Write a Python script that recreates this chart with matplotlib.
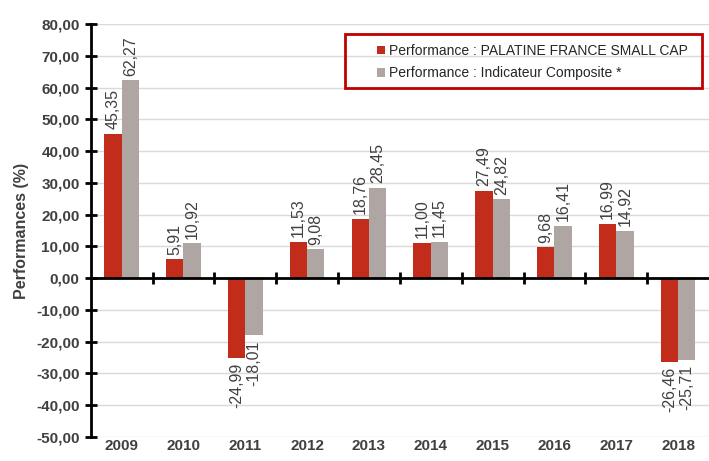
import matplotlib
matplotlib.use("Agg")
import matplotlib.pyplot as plt
import numpy as np
from matplotlib.patches import Rectangle
from matplotlib.ticker import FixedLocator

plt.rcParams["font.family"] = ["Liberation Sans", "DejaVu Sans"]

years = ["2009", "2010", "2011", "2012", "2013", "2014", "2015", "2016", "2017", "2018"]
fund = [45.35, 5.91, -24.99, 11.53, 18.76, 11.00, 27.49, 9.68, 16.99, -26.46]
index = [62.27, 10.92, -18.01, 9.08, 28.45, 11.45, 24.82, 16.41, 14.92, -25.71]
fund_label = "Performance : PALATINE FRANCE SMALL CAP"
index_label = "Performance : Indicateur Composite *"

RED = "#C22C1A"
GREY = "#AFA6A4"
TXT = "#404040"

fig = plt.figure(figsize=(7.09, 4.61), dpi=100)
ax = fig.add_axes([0.128, 0.052, 0.872, 0.896])

x = np.arange(len(years))
w = 0.28
ax.bar(x - w / 2, fund, w, color=RED, label=fund_label, zorder=3)
ax.bar(x + w / 2, index, w, color=GREY, label=index_label, zorder=3)

def fmt(v):
    return f"{v:.2f}".replace(".", ",")

for xs, vals in ((x - w / 2, fund), (x + w / 2, index)):
    for xi, v in zip(xs, vals):
        off = 1.5 if v >= 0 else -1.5
        ax.text(xi, v + off, fmt(v), rotation=90, ha="center",
                va="bottom" if v >= 0 else "top", fontsize=11.5, color=TXT)

ax.set_ylim(-50, 80)
ax.set_xlim(-0.5, len(years) - 0.5)
ax.set_yticks(np.arange(-50, 81, 10))
ax.set_yticklabels([fmt(v) for v in np.arange(-50, 81, 10)],
                   fontsize=11, fontweight="bold", color=TXT)
ax.yaxis.grid(True, color="#D9D9D9", linewidth=1, zorder=0)
ax.set_ylabel("Performances (%)", fontsize=11.5, fontweight="bold", color=TXT, labelpad=5)

for s in ("top", "right"):
    ax.spines[s].set_visible(False)
ax.spines["left"].set_linewidth(2)
ax.spines["bottom"].set_position(("data", 0))
ax.spines["bottom"].set_linewidth(2)
ax.spines["bottom"].set_zorder(4)
ax.tick_params(axis="y", direction="inout", length=8, width=2, pad=4)

ax.set_xticks([])
ax.xaxis.set_minor_locator(FixedLocator(np.arange(0.5, len(years) - 1, 1)))
ax.tick_params(axis="x", which="minor", direction="inout", length=8, width=2)

for xi, yr in zip(x, years):
    ax.text(xi, -0.004, yr, transform=ax.get_xaxis_transform(), ha="center", va="top",
            fontsize=11, fontweight="bold", color=TXT)

# legend without its own frame, boxed by a wider red rectangle as in the source
leg = fig.legend(loc="upper left", bbox_to_anchor=(0.512, 0.935), frameon=False,
                 fontsize=10, handlelength=0.6, handleheight=0.6, handletextpad=0.3,
                 borderpad=0.5, labelspacing=0.6)
for t in leg.get_texts():
    t.set_color("#262626")
fig.patches.append(Rectangle((345 / 709, 1 - 88 / 461), 357 / 709, 54 / 461,
                             transform=fig.transFigure, fill=False,
                             edgecolor="#C00000", linewidth=2))

fig.savefig("out.png", dpi=100)
